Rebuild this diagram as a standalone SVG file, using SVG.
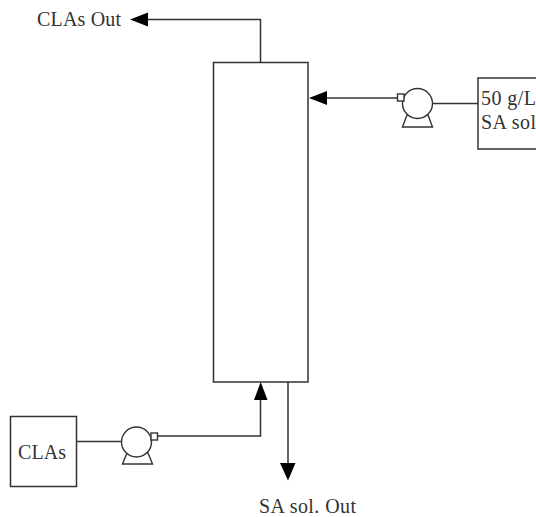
<svg xmlns="http://www.w3.org/2000/svg" width="536" height="517" viewBox="0 0 536 517">
<style>
.s{fill:none;stroke:#333;stroke-width:1.5}
.w{fill:#fff;stroke:#333;stroke-width:1.4}
.a{fill:#000;stroke:none}
text{font-family:"Liberation Serif","Times New Roman",serif;font-size:20px;fill:#333}
</style>
<rect width="536" height="517" fill="#fff"/>
<g id="connectors">
<path class="s" d="M260.500 62.500V19.500H146"/>
<path class="a" d="M130 19.500L148 12.500V26.500Z"/>
<path class="s" d="M397 98H325"/>
<path class="a" d="M309 98L327 91V105Z"/>
<path class="s" d="M432 103.500H478"/>
<path class="s" d="M76.500 441.500H122"/>
<path class="s" d="M158 436H260.500V398"/>
<path class="a" d="M260.700 382L254 400H267.500Z"/>
<path class="s" d="M288 382V465"/>
<path class="a" d="M288 480.500L280 463H295.500Z"/>
</g>
<g id="column"><rect class="s" x="213.500" y="62.500" width="94.500" height="319.500"/></g>
<g id="feed-tank-sa"><rect class="s" x="478" y="78" width="70" height="71"/><text x="481" y="105" textLength="55">50 g/L</text><text x="481" y="129" textLength="55">SA sol</text></g>
<g id="pump-sa">
<path class="w" d="M402.500 127L407 115H428L432.500 127Z"/>
<circle class="w" cx="417.500" cy="103.500" r="15"/>
<rect class="w" x="397.500" y="94" width="6.500" height="7"/>
</g>
<g id="feed-tank-clas"><rect class="s" x="10.500" y="416.500" width="66" height="70"/><text x="18" y="459" textLength="48">CLAs</text></g>
<g id="pump-clas">
<path class="w" d="M122.500 464L127 453H148L152.500 464Z"/>
<circle class="w" cx="136.500" cy="442" r="15"/>
<rect class="w" x="151" y="433" width="6.500" height="7"/>
</g>
<g id="label-clas-out"><text x="37" y="26" textLength="84">CLAs Out</text></g>
<g id="label-sa-out"><text x="259" y="513" textLength="97">SA sol. Out</text></g>
</svg>
